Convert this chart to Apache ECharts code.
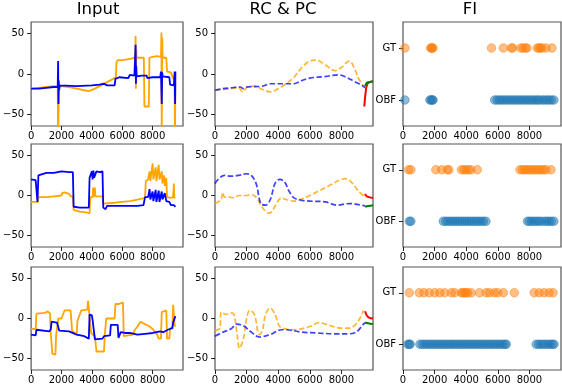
<!DOCTYPE html>
<html><head><meta charset="utf-8">
<script src="https://cdn.jsdelivr.net/npm/echarts@6/dist/echarts.min.js"></script>
<style>html,body{margin:0;padding:0;background:#fff}#c{width:562px;height:386px}</style>
</head><body><div id="c"></div>
<script>
// ---------- DATA ----------
const titles = ['Input', 'RC & PC', 'FI'];
const xTicks = [0, 2000, 4000, 6000, 8000];
const yTicks = [-50, 0, 50];
const fiCats = ['OBF', 'GT'];

// Row 1 Input
const r1InOrange = [[0,-18],[500,-17],[1000,-16],[1500,-15],[1750,-16],[1780,-80],[1810,-80],[1830,-16],[2000,-15],[2500,-16],[3000,-18],[3500,-20],[3800,-21],[4200,-18],[4600,-14],[5000,-10],[5400,-6],[5580,-4],[5620,14],[5700,17],[6000,17],[6300,18],[6600,19],[6700,21],[6850,20],[6880,47],[6900,-18],[6920,30],[6950,20],[7420,20],[7460,-40],[7750,-40],[7790,20],[8000,21],[8300,22],[8550,21],[8580,51],[8600,-80],[8630,45],[8660,20],[8900,20],[8950,3],[9200,2],[9350,-5],[9440,-8],[9470,-80],[9500,-10]];
const r1InBlue = [[0,-18],[500,-18],[1000,-17],[1500,-16],[1750,-16],[1780,16],[1800,-37],[1820,-8],[1850,-20],[1880,-14],[2000,-16],[3000,-15],[4000,-14],[4500,-13],[4800,-12],[5000,-14],[5500,-14],[5550,-6],[5800,-4],[6400,-5],[6500,-1],[6800,-2],[6880,36],[6900,-12],[6920,10],[6950,-3],[7300,-2],[7600,-2],[7650,-5],[8000,-4],[8500,-4],[8550,3],[8600,-37],[8630,2],[8660,-3],[9100,-4],[9150,-13],[9400,-14],[9450,3],[9480,-37],[9500,3]];
// Row 2 Input
const r2InOrange = [[0,-8],[450,-8],[480,-2],[1000,-2],[1500,-1],[2000,0],[2050,3],[2200,4],[2300,2],[2500,2],[2600,-1],[2750,-1],[2800,-18],[3200,-20],[3600,-21],[3850,-22],[3900,-2],[4050,-2],[4080,10],[4110,-2],[4200,10],[4230,-1],[4700,-1],[4750,-10],[5500,-9],[6000,-8],[6500,-7],[7000,-5],[7500,-3],[7550,18],[7700,20],[7800,30],[7850,18],[8000,40],[8050,20],[8200,35],[8250,18],[8400,38],[8450,20],[8600,30],[8650,15],[8750,25],[8800,12],[8900,22],[8950,-2],[9200,-3],[9350,-2],[9400,15],[9430,-3],[9500,-3]];
const r2InBlue = [[0,20],[300,19],[400,18],[420,-8],[480,25],[500,27],[1000,28],[1500,28],[2000,30],[2500,29],[2750,29],[2800,-14],[3200,-15],[3800,-15],[3850,22],[3950,24],[4000,30],[4050,20],[4100,31],[4150,22],[4300,30],[4500,29],[4700,30],[4750,-15],[4900,-17],[5000,-13],[6000,-13],[7000,-13],[7400,-12],[7500,-2],[7550,0],[7700,-2],[7800,8],[7850,-5],[8000,5],[8050,-7],[8200,7],[8250,-8],[8400,6],[8450,-8],[8600,5],[8650,-5],[8800,3],[8900,-7],[9100,-8],[9200,-12],[9400,-12],[9500,-14]];
// Row 3 Input
const r3InOrange = [[0,-13],[300,-13],[350,6],[900,7],[1100,9],[1250,6],[1300,-20],[1400,-44],[1600,-45],[1650,-20],[1750,-20],[1800,0],[2000,0],[2100,-2],[2200,10],[2600,10],[2700,-15],[3000,-20],[3050,-3],[3300,10],[3700,11],[3750,22],[3850,23],[3950,-18],[4200,-22],[4300,-41],[4800,-41],[4850,-20],[4950,0],[5500,0],[5550,18],[5800,18],[5900,20],[6050,20],[6100,-22],[6700,-20],[6800,-15],[7000,-10],[7200,-4],[7500,-7],[7800,-10],[8000,-13],[8300,-20],[8400,-25],[8550,-25],[8600,8],[8900,10],[8950,-25],[9100,-25],[9150,-12],[9300,-12],[9350,17],[9400,15],[9450,-8],[9500,-10]];
const r3InBlue = [[0,-20],[300,-21],[350,-14],[450,-16],[1200,-16],[1300,-13],[1350,-4],[1700,-5],[1750,-8],[1850,-15],[2500,-16],[2600,-18],[3000,-20],[3500,-22],[3800,-25],[3850,5],[4000,4],[4050,-2],[4150,-2],[4200,-26],[4700,-25],[4800,-22],[5200,-21],[5250,-8],[5700,-8],[5750,-24],[5900,-17],[6200,-18],[6500,-18],[7000,-20],[7500,-19],[8000,-18],[8500,-16],[8700,-17],[9000,-14],[9300,-12],[9350,-5],[9450,-6],[9500,3]];

// RC & PC
const r1RcOrange = [[0,-20],[500,-19],[1000,-18],[1500,-17],[1750,-22],[2000,-17],[2500,-15],[3000,-19],[3500,-22],[4000,-18],[4500,-12],[5000,-4],[5500,8],[6000,16],[6400,17],[7000,11],[7600,4],[8000,8],[8500,16],[8800,8],[9100,-6],[9400,-15]];
const r1RcBlue = [[0,-20],[500,-18],[1000,-17],[1600,-16],[1800,-18],[2000,-16],[3000,-15],[3500,-12],[4500,-12],[5000,-12],[5500,-8],[6000,-5],[7000,-3],[7800,-1],[8200,-3],[8800,-9],[9300,-14],[9500,-17]];
const r1Red = [[9450,-40],[9550,-20],[9650,-12],[9800,-10],[10000,-9]];
const r1Green = [[9500,-15],[9600,-11],[9750,-10],[10000,-9]];
const r2RcOrange = [[0,-10],[200,-8],[400,-4],[500,4],[600,-2],[900,-2],[1200,-3],[1500,0],[2000,0],[2300,1],[2600,-2],[3000,-15],[3400,-22],[3600,-20],[3900,-10],[4200,-3],[4500,-5],[5000,-7],[5500,-4],[6000,0],[6500,5],[7200,12],[8000,20],[8300,21],[8700,15],[9100,5],[9500,-2]];
const r2RcBlue = [[0,15],[200,20],[600,25],[1000,24],[1500,25],[2000,27],[2300,25],[2600,15],[2900,-10],[3200,-12],[3500,-5],[3800,15],[4100,20],[4400,17],[4700,5],[5000,-3],[5500,-6],[6000,-7],[7000,-8],[7700,-12],[8500,-10],[9000,-11],[9500,-13]];
const r2Red = [[9500,2],[9600,-1],[9750,-2],[10000,-3]];
const r2Green = [[9500,-14],[9700,-13],[10000,-12]];
const r3RcOrange = [[0,-15],[300,-12],[400,8],[700,5],[1000,7],[1200,5],[1400,-20],[1550,-37],[1800,-25],[2000,0],[2200,10],[2500,5],[2800,-20],[3000,-15],[3200,5],[3500,13],[3800,5],[4100,-10],[4500,-13],[5000,-14],[6000,-10],[6600,-5],[7000,-7],[8000,-12],[8500,-12],[9000,-5],[9400,10]];
const r3RcBlue = [[0,-22],[500,-17],[1000,-13],[1400,-7],[1800,-9],[2300,-17],[2800,-23],[3500,-20],[4200,-14],[4500,-14],[5500,-17],[6500,-18],[7500,-19],[8500,-19],[9000,-16],[9300,-9],[9500,-5]];
const r3Red = [[9500,9],[9600,4],[9750,1],[10000,0]];
const r3Green = [[9500,-5],[9700,-6],[10000,-7]];

// FI positions
const r1GT = [120,1750,1800,1850,1900,5600,6350,6850,6950,7450,7600,7750,7850,8500,8600,8700,8800,9050,9430];
const r1OBF = [120,1700,1780,1860,1900,5800,5950,6100,6250,6400,6550,6700,6850,7000,7150,7300,7450,7600,7750,7900,8050,8200,8350,8500,8620,8800,8950,9100,9250,9400,9550];
const r2GT = [350,500,2080,2450,2800,2900,3700,3850,4000,4150,4300,4700,7400,7550,7700,7850,8000,8150,8300,8450,8600,8750,8900,9050,9370];
const r2OBF = [400,500,2550,2700,2850,3000,3150,3300,3450,3600,3750,3900,4050,4200,4350,4500,4650,4800,4950,5100,5250,7880,8000,8150,8300,8450,8600,8740,8950,9100,9250,9400,9550];
const r3GT = [398,1027,1321,1656,2013,2327,2642,3061,3271,3690,3800,3900,4000,4110,4319,4843,5262,5472,5787,5996,6353,7045,8303,8617,8932,9246,9498];
const r3OBF = [300,398,450,1070,1220,1370,1520,1670,1820,1970,2120,2270,2420,2570,2720,2870,3020,3170,3320,3470,3620,3770,3920,4070,4220,4370,4520,4670,4820,4970,5120,5270,5420,5570,5720,5870,6020,6170,6320,6450,6540,8430,8580,8730,8880,9030,9180,9330,9460,9560];

// ---------- LAYOUT ----------
const colLeft = [27, 215, 403], colWidth = [156, 158, 158];
const rowTop = [22, 144, 267], rowHeight = [104, 103, 103];
const titleX = [98, 283, 470];
const FONT = 'DejaVu Sans';

const grids = [], xAxes = [], yAxes = [], series = [];
const fmtNum = v => v < 0 ? '\u2212' + (-v) : String(v);
const tickStyle = { show: true, inside: false, length: 4, lineStyle: { color: '#222', width: 1 } };
const labelBase = { color: '#000', fontFamily: FONT, fontSize: 10 };
const noLine = { show: false, onZero: false };

for (let r = 0; r < 3; r++) {
  for (let c = 0; c < 3; c++) {
    const gi = r * 3 + c;
    grids.push({ left: colLeft[c], top: rowTop[r], width: colWidth[c], height: rowHeight[r], show: true, borderColor: '#555', borderWidth: 1.2, backgroundColor: 'transparent' });
    xAxes.push({ type: 'value', gridIndex: gi, position: 'bottom', min: 0, max: 10000, splitLine: { show: false }, axisLine: noLine,
      axisTick: Object.assign({ customValues: xTicks }, tickStyle),
      axisLabel: Object.assign({ customValues: xTicks, margin: 5, formatter: v => String(v) }, labelBase) });
    if (c < 2) {
      yAxes.push({ type: 'value', gridIndex: gi, position: 'left', min: -64, max: 64, splitLine: { show: false }, axisLine: noLine,
        axisTick: Object.assign({ customValues: yTicks }, tickStyle),
        axisLabel: Object.assign({ customValues: yTicks, margin: 7, formatter: fmtNum }, labelBase) });
    } else {
      yAxes.push({ type: 'value', gridIndex: gi, position: 'left', min: -0.5, max: 1.5, splitLine: { show: false }, axisLine: noLine,
        axisTick: Object.assign({ customValues: [0, 1] }, tickStyle),
        axisLabel: Object.assign({ customValues: [0, 1], margin: 7, formatter: v => fiCats[Math.round(v)] }, labelBase) });
    }
  }
}

function lineS(gi, data, color, width, dashed, opacity, smooth) {
  return { type: 'line', xAxisIndex: gi, yAxisIndex: gi, data: data, showSymbol: false, symbol: 'none', smooth: smooth || false,
    animation: false, clip: true, silent: true,
    lineStyle: { color: color, width: width, type: dashed ? [5.5, 2.5] : 'solid', opacity: opacity } };
}
function scatterS(gi, xs, yv, color) {
  return { type: 'scatter', xAxisIndex: gi, yAxisIndex: gi, data: xs.map(x => [x, yv]), symbolSize: 8.5, animation: false, silent: true,
    itemStyle: { color: color, opacity: 0.5, borderColor: color, borderWidth: 1 } };
}

const inputs = [[r1InOrange, r1InBlue], [r2InOrange, r2InBlue], [r3InOrange, r3InBlue]];
const rcs = [[r1RcOrange, r1RcBlue, r1Red, r1Green], [r2RcOrange, r2RcBlue, r2Red, r2Green], [r3RcOrange, r3RcBlue, r3Red, r3Green]];
const fis = [[r1GT, r1OBF], [r2GT, r2OBF], [r3GT, r3OBF]];

for (let r = 0; r < 3; r++) {
  const g0 = r * 3, g1 = r * 3 + 1, g2 = r * 3 + 2;
  series.push(lineS(g0, inputs[r][0], '#FFA500', 1.8, false, 1));
  series.push(lineS(g0, inputs[r][1], '#0000FF', 1.8, false, 1));
  series.push(lineS(g1, rcs[r][0], '#FFA500', 1.7, true, 0.8, 0.35));
  series.push(lineS(g1, rcs[r][1], '#0000FF', 1.7, true, 0.75, 0.35));
  series.push(lineS(g1, rcs[r][2], '#FF0000', 2, false, 1, 0.4));
  series.push(lineS(g1, rcs[r][3], '#008000', 2, false, 1, 0.4));
  series.push(scatterS(g2, fis[r][0], 1, '#ff7f0e'));
  series.push(scatterS(g2, fis[r][1], 0, '#1f77b4'));
}

const graphics = titles.map((t, i) => ({ type: 'text', x: titleX[i], y: 10, silent: true,
  style: { text: t, fill: '#000', font: '16.5px "DejaVu Sans"', textAlign: 'center', textVerticalAlign: 'middle' } }));

const chart = echarts.init(document.getElementById('c'), null, { renderer: 'canvas' });
chart.setOption({ animation: false, backgroundColor: '#fff', grid: grids, xAxis: xAxes, yAxis: yAxes, series: series, graphic: graphics });
</script></body></html>
